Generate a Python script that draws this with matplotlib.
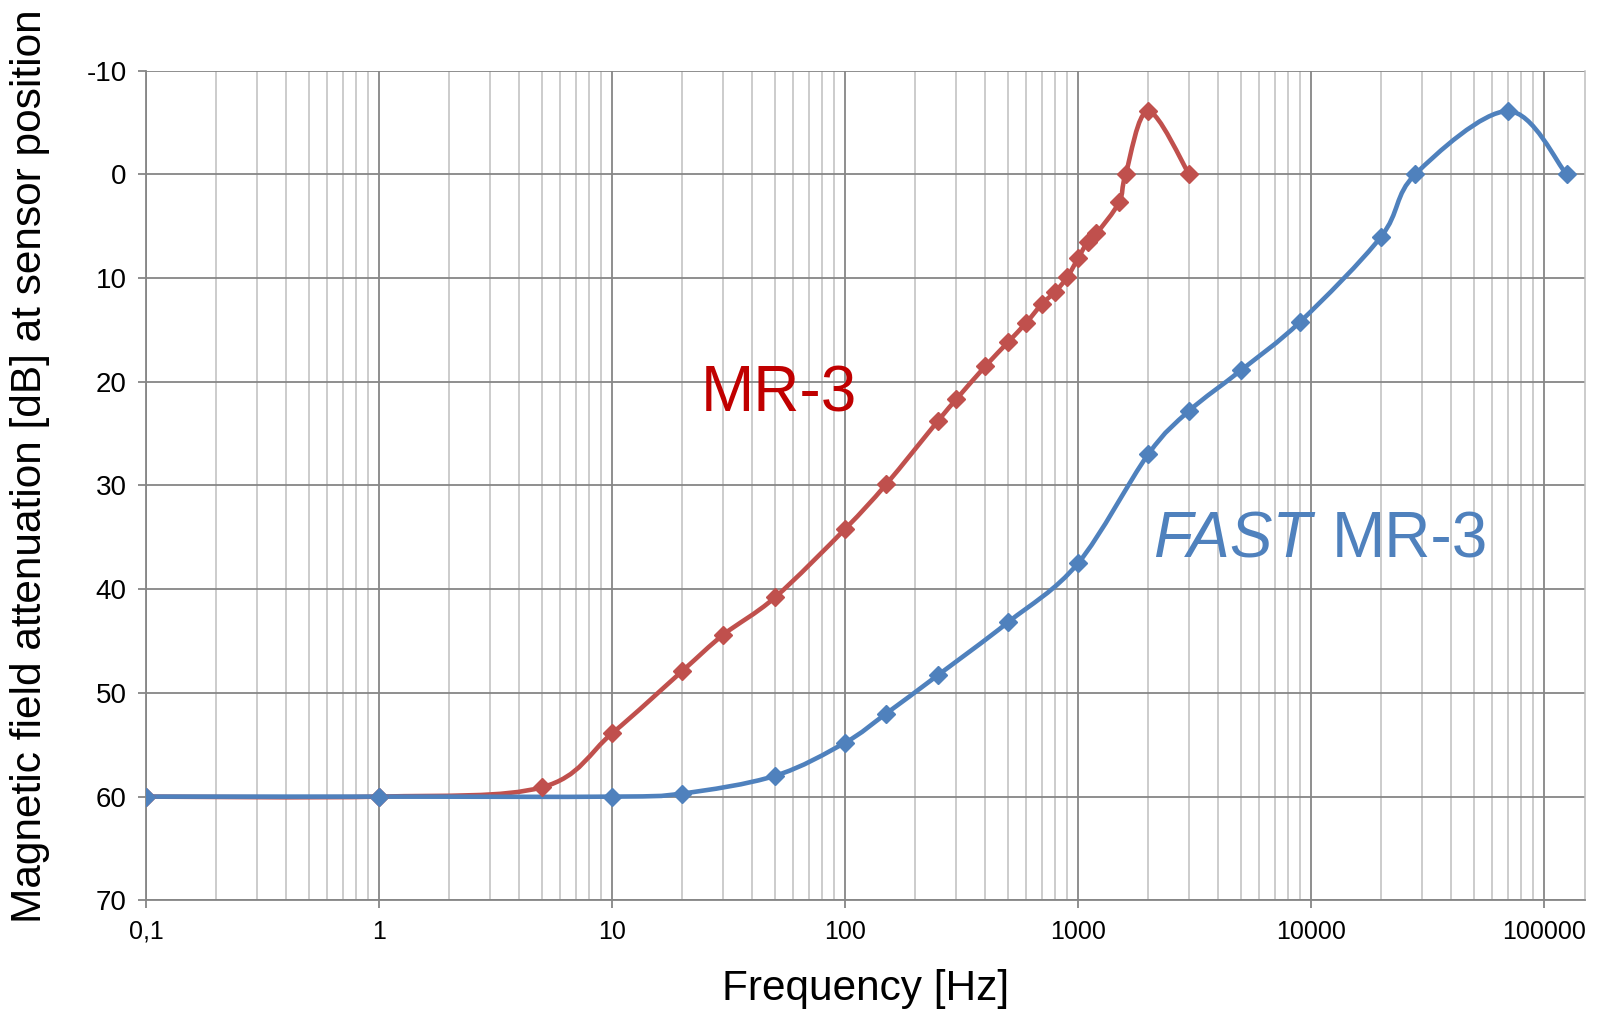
'''
Magnetic field attenuation vs frequency, MR-3 and FAST MR-3
'''

import numpy as np
import matplotlib.pyplot as plt
from matplotlib.path import Path
from matplotlib.patches import PathPatch
from matplotlib.ticker import FixedLocator, LogLocator, NullFormatter

# MR-3 measured points
mr3_freq = [ 0.1, 1, 5, 10, 20, 30, 50, 100, 150, 250, 300, 400, 500, 600,
             700, 800, 900, 1000, 1100, 1200, 1500, 1600, 2000, 3000 ]
mr3_att  = [ 60, 60, 59.1, 53.9, 47.9, 44.4, 40.8, 34.2, 29.9, 23.8, 21.7, 18.5,
             16.2, 14.3, 12.5, 11.3, 9.9, 8.1, 6.5, 5.7, 2.7, 0.0, -6.1, 0.0 ]

# FAST MR-3 measured points
fast_freq = [ 0.1, 1, 10, 20, 50, 100, 150, 250, 500, 1000, 2000, 3000, 5000,
              9000, 20000, 28000, 70000, 125000 ]
fast_att  = [ 60, 60, 60, 59.7, 58.0, 54.8, 52.0, 48.3, 43.2, 37.5, 27.0, 22.8,
              18.9, 14.2, 6.0, 0.0, -6.1, 0.0 ]

xticks      = [ 0.1, 1, 10, 100, 1000, 10000, 100000 ]
xticklabels = [ '0,1', '1', '10', '100', '1000', '10000', '100000' ]
yticks      = list( range( -10, 71, 10 ) )

RED   = '#C0504D'
BLUE  = '#4F81BD'
GRID  = '#868686'
MINOR = '#BFBFBF'

plt.rcParams[ 'font.family' ] = [ 'Liberation Sans', 'DejaVu Sans' ]
NARROW = [ 'Liberation Sans Narrow', 'Liberation Sans', 'DejaVu Sans' ]


def smooth_path( freq, att ):
    # Excel-like smoothed line: Catmull-Rom segments as cubic Beziers in log-x space
    u = np.log10( freq )
    v = np.asarray( att, dtype = float )
    n = len( u )
    verts = [ ( u[ 0 ], v[ 0 ] ) ]
    codes = [ Path.MOVETO ]
    for i in range( n - 1 ):
        a = max( i - 1, 0 )
        d = min( i + 2, n - 1 )
        c1 = ( u[ i ] + ( u[ i + 1 ] - u[ a ] ) / 6, v[ i ] + ( v[ i + 1 ] - v[ a ] ) / 6 )
        c2 = ( u[ i + 1 ] - ( u[ d ] - u[ i ] ) / 6, v[ i + 1 ] - ( v[ d ] - v[ i ] ) / 6 )
        verts += [ c1, c2, ( u[ i + 1 ], v[ i + 1 ] ) ]
        codes += [ Path.CURVE4 ] * 3
    verts = np.array( verts )
    verts[ :, 0 ] = 10 ** verts[ :, 0 ]
    return Path( verts, codes )


fig = plt.figure( figsize = ( 16.03, 10.09 ), dpi = 100 )
ax  = fig.add_axes( [ 0.0911, 0.1077, 0.8977, 0.8223 ] )

ax.set_xscale( 'log' )
ax.set_xlim( 0.1, 150000 )
ax.set_ylim( 70, -10 )

for freq, att, col in [ ( mr3_freq, mr3_att, RED ), ( fast_freq, fast_att, BLUE ) ]:
    ax.add_patch( PathPatch( smooth_path( freq, att ), fill = False, edgecolor = col,
                             linewidth = 3.3, transform = ax.transData, zorder = 3,
                             capstyle = 'round', joinstyle = 'round' ) )
    ax.plot( freq, att, linestyle = 'none', marker = 'D', markersize = 9,
             color = col, zorder = 4 )

# grid
ax.xaxis.set_major_locator( FixedLocator( xticks ) )
ax.xaxis.set_minor_locator( LogLocator( base = 10, subs = np.arange( 2, 10 ), numticks = 20 ) )
ax.xaxis.set_minor_formatter( NullFormatter() )
ax.set_xticklabels( xticklabels, fontfamily = NARROW, fontsize = 18 )
ax.set_yticks( yticks )
ax.set_yticklabels( [ str( t ) for t in yticks ], fontsize = 20 )

ax.grid( which = 'major', color = GRID, linewidth = 1.3, zorder = 1 )
ax.grid( which = 'minor', axis = 'x', color = MINOR, linewidth = 1.1, zorder = 1 )
ax.set_axisbelow( True )

ax.tick_params( which = 'major', direction = 'out', length = 6, width = 1.3,
                color = GRID, labelcolor = '#000000' )
ax.tick_params( which = 'minor', length = 0 )
ax.tick_params( axis = 'x', pad = 8 )
ax.tick_params( axis = 'y', pad = 8 )

for side in [ 'left', 'bottom' ]:
    ax.spines[ side ].set_color( GRID )
    ax.spines[ side ].set_linewidth( 1.3 )
ax.spines[ 'top' ].set_visible( False )
ax.spines[ 'right' ].set_color( MINOR )
ax.spines[ 'right' ].set_linewidth( 1.1 )

ax.set_xlabel( 'Frequency [Hz]', fontfamily = NARROW, fontsize = 30.5, labelpad = 18 )
ax.set_ylabel( 'Magnetic field attenuation [dB] at sensor position', fontsize = 30.5 )
ax.yaxis.set_label_coords( -0.067, 0.5235 )

ax.text( 52, 21.2, 'MR-3', color = '#C00000', fontsize = 46, ha = 'center', va = 'center' )
ax.text( 10100, 35.3, 'FAST', color = BLUE, fontsize = 46, style = 'italic',
         ha = 'right', va = 'center' )
ax.text( 12300, 35.3, 'MR-3', color = BLUE, fontsize = 46, ha = 'left', va = 'center' )

plt.savefig( 'out.png', dpi = 100 )
